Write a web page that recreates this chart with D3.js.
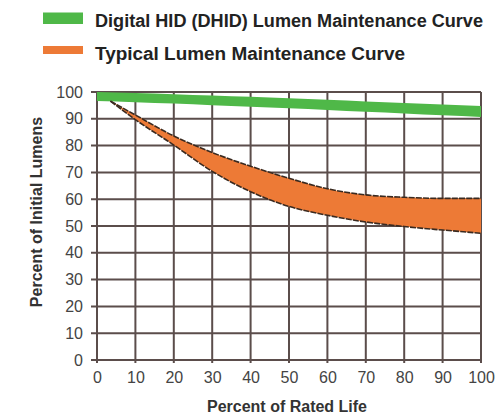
<!DOCTYPE html>
<html><head><meta charset="utf-8">
<script src="https://cdn.jsdelivr.net/npm/d3@7"></script>
<style>html,body{margin:0;padding:0;background:#fff;}svg{display:block;}</style>
</head><body>
<svg id="chart" width="498" height="415"></svg>
<script>
const xTicks = [0,10,20,30,40,50,60,70,80,90,100];
const yTicks = [0,10,20,30,40,50,60,70,80,90,100];
const legendLabels = ["Digital HID (DHID) Lumen Maintenance Curve","Typical Lumen Maintenance Curve"];
const xTitle = "Percent of Rated Life";
const yTitle = "Percent of Initial Lumens";

// DHID band (upper / lower edge)
const dhidX     = [0, 10, 20, 30, 40, 50, 60, 70, 80, 90, 100];
const dhidUpper = [100, 99.6, 99.2, 98.7, 98.2, 97.7, 97.1, 96.5, 95.9, 95.3, 94.8];
const dhidLower = [96.6, 96.2, 95.7, 95.1, 94.5, 93.9, 93.3, 92.6, 92.0, 91.3, 90.7];

// Typical band (upper / lower edge)
const typX     = [3.5, 10, 20, 30, 40, 50, 60, 70, 80, 90, 100];
const typUpper = [96.6, 91.4, 83.6, 77.4, 72.3, 67.8, 63.9, 61.6, 60.7, 60.3, 60.3];
const typLower = [96.6, 89.7, 80.2, 70.4, 62.8, 57.3, 54, 51.5, 49.8, 48.5, 47.3];

const green = "#4fb848", orange = "#ed7a36", gridC = "#5b4d4b";
const svg = d3.select("#chart");
const x = d3.scaleLinear().domain([0,100]).range([97,481]);
const y = d3.scaleLinear().domain([0,100]).range([360,92]);

// grid
const g = svg.append("g");
g.selectAll("line.v").data(xTicks).join("line")
  .attr("x1",d=>x(d)).attr("x2",d=>x(d)).attr("y1",y(100)).attr("y2",y(0)+3)
  .attr("stroke",gridC).attr("stroke-width",2);
g.selectAll("line.h").data(yTicks).join("line")
  .attr("x1",x(0)-6).attr("x2",x(100)).attr("y1",d=>y(d)).attr("y2",d=>y(d))
  .attr("stroke",gridC).attr("stroke-width",2);

// axes labels via d3 axes (no domain/ticks lines)
const yAxis = svg.append("g").attr("transform",`translate(${x(0)-6},0)`)
  .call(d3.axisLeft(y).tickValues(yTicks).tickSize(0).tickPadding(8));
const xAxis = svg.append("g").attr("transform",`translate(0,${y(0)})`)
  .call(d3.axisBottom(x).tickValues(xTicks).tickSize(0).tickPadding(12));
[yAxis,xAxis].forEach(a=>{
  a.select(".domain").remove();
  a.selectAll("text").attr("font-family","Liberation Sans, Arial, sans-serif")
   .attr("font-size",16).attr("fill","#444");
});

// bands
const dhid = dhidX.map((d,i)=>({x:d,u:dhidUpper[i],l:dhidLower[i]}));
const typ = typX.map((d,i)=>({x:d,u:typUpper[i],l:typLower[i]}));
const area = d3.area().x(d=>x(d.x)).y0(d=>y(d.l)).y1(d=>y(d.u)).curve(d3.curveMonotoneX);
svg.append("path").datum(dhid).attr("d",area).attr("fill",green);
svg.append("path").datum(typ).attr("d",area).attr("fill",orange);
const lineU = d3.line().x(d=>x(d.x)).y(d=>y(d.u)).curve(d3.curveMonotoneX);
const lineL = d3.line().x(d=>x(d.x)).y(d=>y(d.l)).curve(d3.curveMonotoneX);
[lineU,lineL].forEach(l=>{
  svg.append("path").datum(typ).attr("d",l).attr("fill","none")
    .attr("stroke","#3a2a20").attr("stroke-width",1.6).attr("stroke-dasharray","6,1.2");
});

// titles
svg.append("text").attr("x",287).attr("y",412).attr("text-anchor","middle")
  .attr("font-family","Liberation Sans, Arial, sans-serif").attr("font-weight","bold")
  .attr("font-size",16).attr("fill","#333").text(xTitle);
svg.append("text").attr("transform","translate(42,212) rotate(-90)").attr("text-anchor","middle")
  .attr("font-family","Liberation Sans, Arial, sans-serif").attr("font-weight","bold")
  .attr("font-size",16).attr("fill","#333").text(yTitle);

// legend
const legColors = [green, orange];
const legRects = [[12.5,11.5],[46,8]];
const legBase = [27,60];
const legWidths = [388,310];
legendLabels.forEach((t,i)=>{
  svg.append("rect").attr("x",43).attr("y",legRects[i][0]).attr("width",40).attr("height",legRects[i][1]).attr("fill",legColors[i]);
  svg.append("text").attr("x",95).attr("y",legBase[i])
    .attr("font-family","Liberation Sans, Arial, sans-serif").attr("font-weight","bold")
    .attr("font-size",18).attr("fill","#222")
    .attr("textLength",legWidths[i]).attr("lengthAdjust","spacingAndGlyphs").text(t);
});
</script>
</body></html>
